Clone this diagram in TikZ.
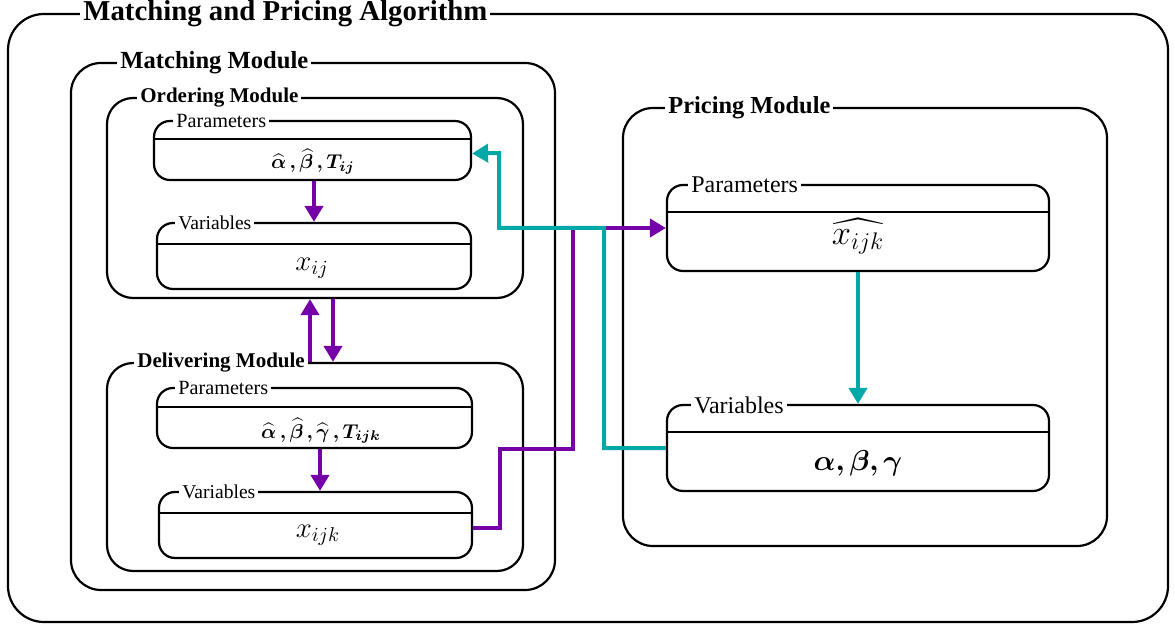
\documentclass[tikz,border=0pt]{standalone}
\usepackage{amsmath}
\usepackage{bm}
\usepackage{fontspec}
\setmainfont{Liberation Serif}
\usetikzlibrary{arrows.meta,fit}
\definecolor{purp}{RGB}{118,0,168}
\definecolor{teal2}{RGB}{0,168,168}
\newcommand{\fs}[1]{\fontsize{#1}{#1}\selectfont}
\begin{document}
\begin{tikzpicture}[x=0.5pt,y=-0.5pt,
  frame/.style={draw, line width=1.1pt, inner sep=0pt},
  modbox/.style={frame, rounded corners=13pt},
  smallbox/.style={frame, rounded corners=8pt},
  divider/.style={line width=1.1pt},
  ttl/.style={fill=white, inner xsep=1.5pt, inner ysep=0.5pt, anchor=west},
  parr/.style={draw=purp, line width=2pt, -{Triangle[length=8pt,width=9pt]}},
  carr/.style={draw=teal2, line width=2pt, -{Triangle[length=8pt,width=9pt]}},
]
\useasboundingbox (0,0) rectangle (1175,626);

% outer frame
\node[frame, rounded corners=18pt, fit={(8,14)(1168,622)}] (alg) {};
\node[ttl, font=\bfseries\fs{14.4}] (algT) at (80,14) {Matching and Pricing Algorithm};

% matching module
\node[frame, rounded corners=15pt, fit={(71,63)(555,590)}] (mm) {};
\node[ttl, font=\bfseries\fs{12.3}] (mmT) at (117,63) {Matching Module};

% ordering module
\node[modbox, fit={(107,98)(523,298)}] (om) {};
\node[ttl, font=\bfseries\fs{10.5}] (omT) at (137,98) {Ordering Module};

\node[smallbox, fit={(154,121)(471,180)}] (op) {};
\draw[divider] (op.west |- 0,139) -- (op.east |- 0,139);
\node[ttl, font=\fs{10.1}] (opT) at (173,121) {Parameters};
\node[font=\fs{10}] (opC) at (313,162) {$\bm{\widehat{\alpha}\,,\widehat{\beta}\,,T_{ij}}$};

\node[smallbox, fit={(157,223)(471,289)}] (ov) {};
\draw[divider] (ov.west |- 0,244) -- (ov.east |- 0,244);
\node[ttl, font=\fs{9.8}] (ovT) at (175,223) {Variables};
\node[font=\fs{14}] (ovC) at (312,268) {$x_{ij}$};

% delivering module
\node[modbox, fit={(107,363)(523,571)}] (dm) {};
\node[ttl, font=\bfseries\fs{10.5}] (dmT) at (134,363) {Delivering Module};

\node[smallbox, fit={(157,388)(472,448)}] (dp) {};
\draw[divider] (dp.west |- 0,407) -- (dp.east |- 0,407);
\node[ttl, font=\fs{10.1}] (dpT) at (175,388) {Parameters};
\node[font=\fs{10}] (dpC) at (321,431) {$\bm{\widehat{\alpha}\,,\widehat{\beta}\,,\widehat{\gamma}\,,T_{ijk}}$};

\node[smallbox, fit={(159,492)(472,558)}] (dv) {};
\draw[divider] (dv.west |- 0,513) -- (dv.east |- 0,513);
\node[ttl, font=\fs{9.8}] (dvT) at (179,492) {Variables};
\node[font=\fs{14}] (dvC) at (318,535) {$x_{ijk}$};

% pricing module
\node[frame, rounded corners=15pt, fit={(623,108)(1107,546)}] (pm) {};
\node[ttl, font=\bfseries\fs{12.2}] (pmT) at (665,108) {Pricing Module};

\node[smallbox, fit={(667,185)(1049,271)}] (pp) {};
\draw[divider] (pp.west |- 0,212) -- (pp.east |- 0,212);
\node[ttl, font=\fs{12}] (ppT) at (688,185) {Parameters};
\node[font=\fs{17}] (ppC) at (858,236) {$\widehat{x_{ijk}}$};

\node[smallbox, fit={(667,405)(1049,491)}] (pv) {};
\draw[divider] (pv.west |- 0,432) -- (pv.east |- 0,432);
\node[ttl, font=\fs{12}] (pvT) at (691,405) {Variables};
\node[font=\fs{14}] (pvC) at (858,463) {$\bm{\alpha,\beta,\gamma}$};

% helper x positions
\coordinate (xa) at (310,0);
\coordinate (xb) at (333,0);
\coordinate (xc) at (320,0);
\coordinate (xd) at (314,0);

% connectors inside matching module
\draw[parr] (op.south -| xd) -- (ov.north -| xd);
\draw[parr] (dp.south -| xc) -- (dv.north -| xc);
\draw[parr] (dm.north -| xa) -- (om.south -| xa);
\draw[parr] (om.south -| xb) -- (dm.north -| xb);

% purple: delivering variables -> pricing parameters
\draw[parr] ([yshift=-1.5pt]dv.east) -| (500,449) -| (573,228) -- (pp.west);

% teal: pricing variables -> ordering parameters
\draw[carr] (pv.west) -| (604,228) -| (499,153) -- ([yshift=-1.5pt]op.east);

% teal: pricing parameters -> pricing variables
\draw[carr] (pp.south) -- (pv.north);
\end{tikzpicture}
\end{document}
